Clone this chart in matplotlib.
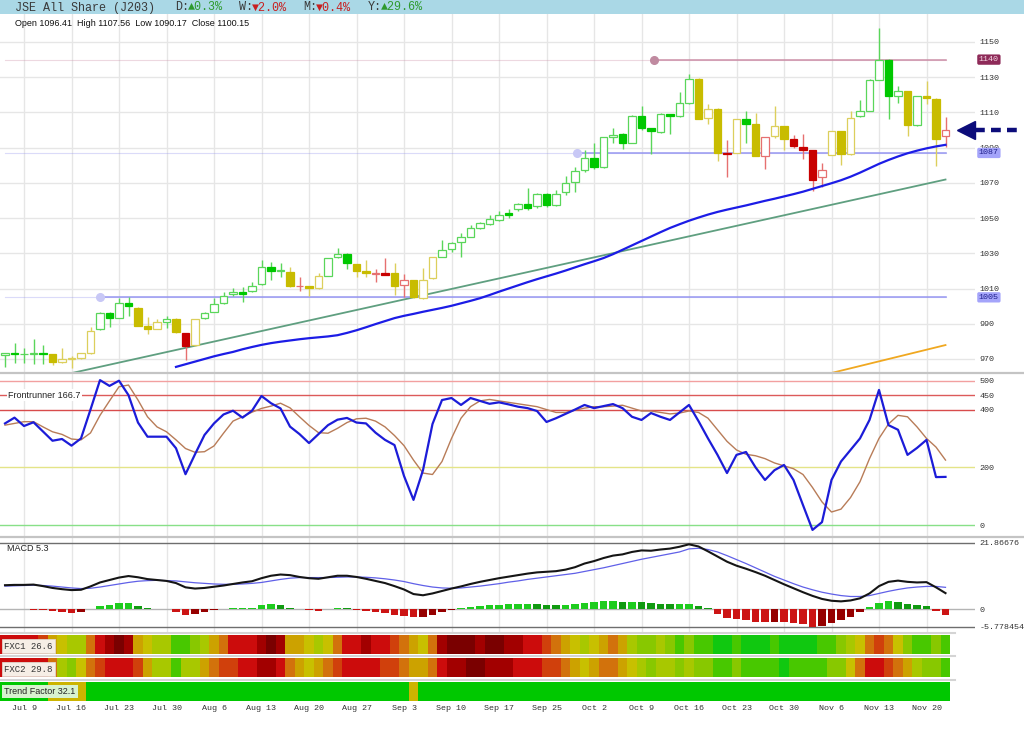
import numpy as np
import matplotlib
matplotlib.use('Agg')
import matplotlib.pyplot as plt
from matplotlib.colors import ListedColormap
from matplotlib.lines import Line2D
from matplotlib.patches import Rectangle
import matplotlib.transforms as mtrans

plt.rcParams['font.family'] = ['Liberation Mono', 'DejaVu Sans Mono']
SANS = ['Liberation Sans', 'DejaVu Sans']

W, H = 1024, 735

# ---------------- data ----------------
opens = [972.2, 973.5, 972.6, 972.6, 973.5, 972.6, 968.0, 970.2, 970.7, 973.6,
         987.0, 996.3, 993.4, 1001.6, 999.1, 988.9, 987.2, 991.2, 992.5, 985.0,
         977.9, 993.1, 996.7, 1001.6, 1006.7, 1008.0, 1008.4, 1012.6, 1022.4, 1020.0,
         1019.6, 1011.2, 1011.4, 1010.5, 1017.3, 1027.7, 1029.6, 1023.9, 1019.9, 1018.2,
         1018.7, 1018.7, 1012.0, 1014.8, 1004.4, 1015.8, 1028.1, 1032.5, 1036.3, 1039.5,
         1044.5, 1046.5, 1049.0, 1053.0, 1055.0, 1058.2, 1057.0, 1063.7, 1057.5, 1064.7,
         1070.6, 1077.4, 1084.1, 1078.8, 1096.0, 1098.0, 1092.9, 1108.1, 1100.9, 1098.7,
         1109.1, 1107.7, 1115.4, 1129.2, 1106.6, 1112.0, 1087.2, 1087.0, 1106.0, 1103.2,
         1085.2, 1096.8, 1102.2, 1095.0, 1090.3, 1088.6, 1073.3, 1086.0, 1099.3, 1086.2,
         1107.7, 1111.0, 1128.6, 1140.0, 1119.3, 1122.2, 1102.6, 1119.3, 1117.9, 1096.41]
highs = [973.5, 978.9, 976.0, 981.2, 977.9, 973.0, 976.0, 971.5, 973.5, 988.4,
         996.5, 996.5, 1004.4, 1005.0, 999.5, 994.0, 992.5, 994.4, 993.5, 985.0,
         992.5, 996.5, 1004.4, 1008.2, 1010.1, 1010.7, 1013.5, 1026.2, 1025.2, 1024.3,
         1022.0, 1016.7, 1011.6, 1018.7, 1027.5, 1032.8, 1030.0, 1024.2, 1026.2, 1020.9,
         1027.2, 1024.3, 1018.3, 1015.0, 1021.5, 1028.0, 1037.6, 1036.6, 1041.4, 1046.1,
         1048.0, 1052.0, 1054.0, 1055.0, 1058.5, 1067.0, 1064.0, 1064.0, 1066.1, 1073.9,
         1079.2, 1088.9, 1092.9, 1095.8, 1101.3, 1098.2, 1108.3, 1113.6, 1101.0, 1109.7,
         1109.3, 1121.8, 1131.6, 1129.5, 1115.0, 1112.6, 1094.4, 1106.4, 1111.0, 1109.7,
         1096.2, 1113.4, 1102.4, 1097.4, 1097.8, 1088.7, 1081.3, 1099.5, 1099.5, 1111.0,
         1116.9, 1128.8, 1158.0, 1140.2, 1125.1, 1122.4, 1119.5, 1128.1, 1118.1, 1107.56]
lows = [965.5, 967.9, 967.9, 967.0, 967.0, 966.4, 967.5, 965.0, 970.0, 973.0,
        986.5, 988.4, 993.0, 994.4, 988.5, 984.2, 987.0, 987.6, 984.5, 969.4,
        977.5, 992.5, 996.5, 1001.0, 1005.5, 1002.2, 1008.0, 1012.0, 1014.9, 1016.7,
        1011.0, 1008.8, 1005.8, 1010.0, 1017.0, 1027.3, 1020.9, 1016.7, 1016.7, 1013.9,
        1017.5, 1006.3, 1005.0, 1004.4, 1004.0, 1015.5, 1027.8, 1031.0, 1027.7, 1039.0,
        1044.0, 1046.0, 1048.5, 1050.0, 1054.0, 1054.5, 1056.0, 1056.5, 1057.0, 1063.1,
        1065.1, 1075.9, 1077.8, 1078.4, 1092.9, 1089.5, 1092.7, 1099.9, 1086.2, 1098.3,
        1097.9, 1107.5, 1115.0, 1106.0, 1103.2, 1082.7, 1073.5, 1086.8, 1092.9, 1085.0,
        1077.8, 1095.4, 1088.9, 1089.9, 1083.7, 1065.5, 1067.4, 1085.8, 1080.3, 1086.0,
        1107.5, 1110.8, 1128.4, 1106.2, 1115.6, 1096.8, 1102.4, 1115.0, 1079.8, 1090.17]
closes = [973.2, 972.6, 972.9, 973.5, 972.6, 968.3, 970.2, 970.5, 973.2, 986.1,
          996.3, 993.4, 1001.6, 1000.1, 988.9, 987.2, 991.2, 992.5, 985.2, 977.4,
          992.5, 996.3, 1001.2, 1005.9, 1008.0, 1006.7, 1011.6, 1022.4, 1020.1, 1020.3,
          1011.4, 1011.6, 1010.5, 1017.1, 1027.2, 1029.6, 1024.7, 1020.1, 1018.7, 1018.5,
          1017.7, 1011.4, 1014.8, 1005.0, 1014.8, 1027.7, 1031.9, 1035.7, 1039.1, 1044.6,
          1047.0, 1049.5, 1052.0, 1051.5, 1058.2, 1055.5, 1063.7, 1057.5, 1063.7, 1070.0,
          1076.8, 1084.1, 1078.8, 1095.8, 1097.4, 1092.9, 1108.1, 1100.9, 1099.3, 1109.1,
          1107.7, 1115.4, 1129.2, 1106.2, 1112.0, 1087.2, 1086.2, 1106.2, 1103.2, 1085.2,
          1096.0, 1102.2, 1095.0, 1091.1, 1088.9, 1071.4, 1077.2, 1099.3, 1086.2, 1106.8,
          1110.7, 1128.6, 1140.0, 1119.3, 1122.2, 1102.6, 1119.3, 1118.3, 1095.0, 1100.15]
# candle colour class: g = green, y = yellow, r = red
candle_kind = ("gggggyyyyy" "ggggyyygyr" "yggggggggg" "yryygggyyr"
               "ryryyygggg" "gggggggggg" "gggggggggg" "gggyyyrygy"
               "ryyrrrryyy" "gggggygyyr")

ma_blue = [np.nan] * 18 + [
    965.5, 967.0, 968.5, 970.0, 971.5, 972.8, 974.0, 975.5, 976.8, 978.0, 979.0, 979.8,
    980.5, 981.2, 981.8, 982.3, 982.8, 983.5, 984.8, 986.3, 988.0, 989.8,
    991.5, 993.2, 994.5, 995.6, 996.8, 997.9, 999.0, 1000.2, 1001.6, 1003.0,
    1004.5, 1006.3, 1008.2, 1010.0, 1011.8, 1013.6, 1015.3, 1016.9, 1018.5, 1020.2,
    1022.0, 1023.8, 1025.5, 1027.3, 1029.5, 1032.0, 1034.5, 1037.0, 1039.5, 1042.0,
    1044.4, 1046.5, 1048.5, 1050.3, 1052.0, 1053.5, 1054.8, 1056.0, 1057.2, 1058.5,
    1059.8, 1061.0, 1062.3, 1063.6, 1065.0, 1066.6, 1068.2, 1069.8, 1071.5, 1073.5,
    1075.8, 1078.3, 1080.8, 1083.0, 1085.0, 1086.8, 1088.3, 1089.6, 1090.7, 1091.6]
trend_x = [0, 99]
trend_y = [953.6, 1071.9]
slow_x = [85, 99]
slow_y = [959.4, 977.9]

level_vals = [1140, 1087, 1005]
level_from = [68.3, 60.2, 10.0]
level_text = ['1140', '1087', '1005']

price_ticks = [970, 990, 1010, 1030, 1050, 1070, 1090, 1110, 1130, 1150]

fr_line = [352, 372, 343, 356, 324, 292, 298, 275, 300, 400,
           502, 482, 500, 450, 355, 306, 306, 306, 266, 176,
           245, 312, 352, 383, 396, 372, 396, 447, 422, 404,
           341, 315, 284, 315, 346, 365, 371, 355, 352, 320,
           295, 277, 170, 87, 190, 350, 433, 440, 416, 440,
           430, 420, 425, 418, 410, 405, 395, 357, 370, 385,
           400, 416, 405, 412, 419, 405, 375, 364, 388, 375,
           364, 390, 416, 360, 300, 243, 180, 243, 253, 200,
           156, 190, 208, 156, 69, -17, 10, 156, 220, 260,
           300, 364, 468, 346, 330, 243, 267, 295, 166, 166.7]
fr_signal = [346, 352, 358, 358, 340, 323, 314, 298, 295, 319,
             380, 430, 479, 485, 433, 375, 340, 323, 295, 265,
             252, 254, 274, 318, 360, 375, 391, 404, 412, 422,
             406, 375, 345, 320, 318, 335, 355, 368, 370, 360,
             340, 310, 275, 225, 180, 175, 220, 300, 370, 410,
             430, 435, 430, 425, 420, 415, 410, 400, 390, 390,
             398, 405, 410, 410, 412, 415, 405, 395, 395, 390,
             385, 388, 395, 390, 370, 330, 290, 260, 245, 240,
             230, 215, 205, 195, 175, 130, 80, 45, 55, 95,
             150, 230, 300, 350, 380, 375, 340, 300, 270, 225]
fr_levels = [500, 450, 400, 200, 0]
fr_colors = ['#f2a0a0', '#dc5a5a', '#d84c4c', '#e4e488', '#88e088']

macd_line = [7.9, 8.0, 8.0, 8.1, 7.6, 7.0, 6.6, 6.3, 6.4, 7.5,
             8.8, 9.6, 10.4, 10.9, 10.5, 9.9, 9.6, 9.3, 8.6, 7.2,
             6.8, 7.0, 7.4, 7.8, 8.3, 8.8, 9.2, 10.2, 11.0, 11.4,
             11.2, 10.6, 10.2, 10.0, 10.5, 11.0, 11.0, 10.6, 10.0, 9.3,
             8.6, 7.6, 6.5, 5.0, 4.6, 5.2, 6.0, 6.8, 7.5, 8.3,
             9.0, 9.6, 10.2, 10.7, 11.2, 11.7, 12.1, 12.3, 12.5, 13.0,
             13.8, 15.0, 15.8, 16.8, 17.6, 18.0, 18.8, 19.3, 19.2, 19.6,
             19.9, 20.5, 21.3, 20.6, 19.0, 17.3, 15.6, 14.3, 13.3, 12.2,
             11.0, 9.6, 8.2, 6.9, 5.6, 4.4, 3.4, 2.8, 2.6, 2.9,
             3.6, 5.2, 7.6, 9.0, 9.4, 9.0, 8.8, 8.9, 7.2, 5.3]
macd_signal = [7.6, 7.7, 7.8, 7.9, 7.8, 7.6, 7.3, 7.0, 6.8, 6.9,
               7.3, 7.8, 8.3, 8.8, 9.2, 9.4, 9.5, 9.4, 9.3, 9.0,
               8.7, 8.5, 8.3, 8.2, 8.2, 8.3, 8.5, 8.8, 9.3, 9.8,
               10.2, 10.4, 10.4, 10.4, 10.4, 10.5, 10.6, 10.6, 10.5, 10.3,
               10.0, 9.6, 9.1, 8.4, 7.8, 7.3, 7.0, 6.9, 7.0, 7.3,
               7.6, 8.0, 8.4, 8.9, 9.3, 9.8, 10.2, 10.6, 11.0, 11.4,
               11.8, 12.4, 13.0, 13.6, 14.3, 15.0, 15.7, 16.4, 17.0, 17.6,
               18.2, 18.8, 19.8, 20.0, 19.6, 18.8, 17.6, 16.3, 15.0, 13.6,
               12.2, 10.8, 9.6, 8.4, 7.3, 6.4, 5.6, 5.0, 4.5, 4.2,
               4.2, 4.5, 5.2, 5.9, 6.5, 7.0, 7.3, 7.5, 7.5, 7.2]
macd_hist = [0.2, 0.1, 0.0, -0.1, -0.3, -0.7, -0.9, -1.1, -0.9, 0.2,
             1.0, 1.4, 2.0, 2.0, 1.2, 0.3, 0.1, 0.0, -0.8, -2.0,
             -1.5, -1.0, -0.3, 0.1, 0.3, 0.3, 0.4, 1.3, 1.6, 1.3,
             0.5, 0.1, -0.3, -0.4, 0.1, 0.4, 0.3, -0.2, -0.6, -1.0,
             -1.3, -1.8, -2.2, -2.6, -2.5, -1.8, -1.0, -0.2, 0.3, 0.8,
             1.0, 1.3, 1.5, 1.6, 1.6, 1.8, 1.7, 1.5, 1.4, 1.5,
             1.8, 2.2, 2.3, 2.6, 2.6, 2.4, 2.5, 2.4, 2.0, 1.8,
             1.6, 1.7, 1.9, 1.2, 0.3, -1.5, -2.8, -3.2, -3.4, -4.0,
             -4.2, -4.0, -4.3, -4.6, -4.9, -5.7, -5.6, -4.6, -3.6, -2.4,
             -1.0, 0.6, 2.0, 2.7, 2.5, 1.8, 1.3, 1.1, -0.6, -1.9]
macd_max, macd_min = 21.86676, -5.778454
macd_tick_lbl = ['-5.778454', '0', '21.86676']

# heat strips: 0 = darkest red ... 10 = bright green
fxc1 = [2, 2, 2, 2, 3, 5, 6, 7, 7, 4, 2, 1, 0, 1, 5, 6, 7, 7, 9, 9,
        8, 7, 5, 4, 2, 2, 2, 1, 0, 1, 5,
        5, 6, 7, 6, 4, 2, 2, 1, 2, 2, 3, 4, 5, 6, 4,
        1, 0, 0, 0, 1, 0, 0, 1, 1, 2, 2, 3,
        4, 5, 6, 7, 6, 5, 4, 5, 7, 8, 8, 7, 8, 9, 8,
        9, 9, 10, 10, 9, 10, 10, 10, 9, 10, 10, 10, 10, 9, 9, 8,
        7, 6, 4, 3, 4, 6, 8, 9, 9, 8, 9]
fxc2 = [2, 2, 2, 2, 2, 4, 7, 8, 6, 4, 3, 2, 2, 2, 3, 5, 7, 7, 9, 7,
        7, 5, 4, 3, 3, 2, 2, 1, 1, 2, 4,
        5, 6, 5, 4, 3, 2, 2, 2, 2, 3, 3, 4, 5, 5, 4,
        2, 1, 1, 0, 0, 1, 1, 1, 2, 2, 2, 3,
        3, 4, 5, 6, 5, 4, 4, 5, 6, 7, 8, 7, 7, 8, 7,
        8, 8, 9, 9, 8, 9, 9, 9, 9, 10, 9, 9, 9, 9, 8, 8,
        6, 4, 2, 2, 3, 4, 5, 7, 8, 8, 9]
trend_factor = ['G'] * 5 + ['Y'] * 4 + ['G'] * 34 + ['Y'] + ['G'] * 56

tick_idx = [2, 7, 12, 17, 22, 27, 32, 37, 42, 47, 52, 57, 62, 67, 72, 77, 82, 87, 92, 97]
tick_lbl = ['Jul 9', 'Jul 16', 'Jul 23', 'Jul 30', 'Aug 6', 'Aug 13', 'Aug 20', 'Aug 27',
            'Sep 3', 'Sep 10', 'Sep 17', 'Sep 25', 'Oct 2', 'Oct 9', 'Oct 16', 'Oct 23',
            'Oct 30', 'Nov 6', 'Nov 13', 'Nov 20']

# ---------------- helpers ----------------
def rect(x0, y0, x1, y1):
    return [x0 / W, 1 - y1 / H, (x1 - x0) / W, (y1 - y0) / H]

n = len(closes)
idx = np.arange(n)
XL = (-5 / 9.5, 970 / 9.5)   # candle i sits at 5 + 9.5*i pixels
GRID = '#e6e6e6'

def base(ax):
    ax.set_xlim(*XL)
    ax.set_facecolor('none')
    for s in ax.spines.values():
        s.set_visible(False)
    ax.set_xticks(tick_idx)
    ax.tick_params(axis='x', length=0, labelbottom=False)
    ax.grid(axis='x', color=GRID, lw=1)
    ax.yaxis.tick_right()
    ax.tick_params(axis='y', length=0, pad=3, labelsize=6, labelcolor='#333333')
    ax.set_axisbelow(True)

fig = plt.figure(figsize=(W / 100, H / 100), dpi=100)
fig.patch.set_facecolor('white')

# title bar
fig.patches.append(Rectangle((0, 1 - 14 / H), 1, 14 / H, transform=fig.transFigure,
                             facecolor='#aad8e6', edgecolor='none'))
ty = 1 - 7.5 / H
fig.text(15 / W, ty, 'JSE All Share (J203)', size=8.5, color='#3a3a3a', va='center')
for x0, head, val, col in [(175, 'D:', '▲0.3%', '#2e9a2e'), (239, 'W:', '▼2.0%', '#c82020'),
                           (303, 'M:', '▼0.4%', '#c82020'), (368, 'Y:', '▲29.6%', '#2e9a2e')]:
    fig.text(x0 / W, ty, head, size=8.5, color='#3a3a3a', va='center')
    fig.text((x0 + 13) / W, ty, val, size=8.5, color=col, va='center')

# ---------------- price panel ----------------
ax = fig.add_axes(rect(0, 14, 975, 372))
base(ax)
ax.set_ylim(962.6, 1165.9)
ax.set_yticks(price_ticks)
ax.grid(axis='y', color=GRID, lw=1)

fill_col = {'g': '#00c800', 'y': '#c8bc00', 'r': '#c80000'}
edge_col = {'g': '#5ad65a', 'y': '#dccf5c', 'r': '#e67070'}
faces, edges, wicks, bottoms, heights = [], [], [], [], []
for o, c, k in zip(opens, closes, candle_kind):
    up = c >= o
    faces.append('white' if up else fill_col[k])
    edges.append(edge_col[k] if up else fill_col[k])
    wicks.append(edge_col[k])
    bottoms.append(min(o, c))
    heights.append(max(abs(c - o), 0.45))
ax.vlines(idx, lows, highs, colors=wicks, lw=1.0, zorder=3)
ax.bar(idx, heights, bottom=bottoms, width=0.8, color=faces, edgecolor=edges,
       lw=0.9, zorder=4)

ax.plot(trend_x, trend_y, color='#5f9f80', lw=1.3, zorder=2)
ax.plot(slow_x, slow_y, color='#f0a820', lw=1.3, zorder=2)
ax.plot(idx, ma_blue, color='#1c1ce6', lw=1.6, zorder=5)

level_line = ['#cc90a8', '#9898f0', '#9898f0']
level_dot = ['#c08aa0', '#c8c8f6', '#c8c8f6']
level_box = ['#8e2a58', '#a4a4fa', '#a4a4fa']
level_txt = ['#f4d8e4', '#20208c', '#20208c']
yx = mtrans.blended_transform_factory(ax.transAxes, ax.transData)
for v, x0, t, lc, dc, bc, tc in zip(level_vals, level_from, level_text,
                                    level_line, level_dot, level_box, level_txt):
    ax.plot([0, n - 1], [v, v], color=lc, lw=0.8, alpha=0.35, zorder=2)
    ax.plot([x0, n - 1], [v, v], color=lc, lw=1.1, zorder=2)
    ax.plot([x0], [v], 'o', ms=5.5, color=dc, zorder=2)
    ax.text(1.004, v, t, transform=yx, size=6, color=tc, va='center', ha='left',
            bbox=dict(boxstyle='round,pad=0.2', fc=bc, ec='none'), zorder=10, clip_on=False)

# arrow pointing at last close
navy = '#0c0c7a'
ax.plot([n + 1.15], [closes[-1]], marker='<', ms=13, color=navy, clip_on=False, zorder=10)
ax.plot([n + 2.1, n + 6.5], [closes[-1]] * 2, color=navy, lw=3.2, ls=(0, (2.2, 1.4)),
        clip_on=False, zorder=10)

fig.text(15 / W, 1 - 23 / H, 'Open %.2f  High %.2f  Low %.2f  Close %.2f'
         % (opens[-1], highs[-1], lows[-1], closes[-1]),
         family=SANS, size=6.5, color='#111111', va='center')

# separators
for yy in (372.5, 536.5):
    fig.add_artist(Line2D([0, 1], [1 - yy / H] * 2, transform=fig.transFigure,
                          color='#c4c4c4', lw=1.6))

# ---------------- frontrunner panel ----------------
ax2 = fig.add_axes(rect(0, 373, 975, 536))
base(ax2)
ax2.set_ylim(-38.1, 526.7)
ax2.set_yticks(fr_levels)
for v, c in zip(fr_levels, fr_colors):
    ax2.axhline(v, color=c, lw=1.0, zorder=1)
ax2.plot(idx, fr_signal, color='#b87c58', lw=1.0, zorder=3)
ax2.plot(idx, fr_line, color='#1c1cd8', lw=1.6, zorder=4)
ax2.text(8 / 975, 450, 'Frontrunner %.1f' % fr_line[-1],
         transform=mtrans.blended_transform_factory(ax2.transAxes, ax2.transData),
         family=SANS, size=6.5, color='#222222', va='center',
         bbox=dict(fc='white', ec='none', pad=1.0), zorder=6)

# ---------------- MACD panel ----------------
ax3 = fig.add_axes(rect(0, 537, 975, 632))
base(ax3)
ax3.set_ylim(-7.44, 23.7)
ax3.set_yticks([macd_min, 0, macd_max])
ax3.set_yticklabels(macd_tick_lbl)
ax3.axhline(macd_max, color='#6e6e6e', lw=1.0)
ax3.axhline(macd_min, color='#6e6e6e', lw=1.0)
ax3.axhline(0, color='#b4b4b4', lw=1.0)
hcols = []
prev = 0.0
for h in macd_hist:
    if h >= 0:
        hcols.append('#1ecc1e' if h >= prev else '#119a11')
    else:
        hcols.append('#cc1414' if h <= prev else '#960000')
    prev = h
ax3.bar(idx, macd_hist, width=0.78, color=hcols, zorder=2)
ax3.plot(idx, macd_signal, color='#6060e8', lw=0.9, zorder=3)
ax3.plot(idx, macd_line, color='#151515', lw=1.5, zorder=4)
ax3.text(7 / 975, 0.88, 'MACD %.1f' % macd_line[-1], transform=ax3.transAxes,
         family=SANS, size=6.5, color='#222222', va='center')

# ---------------- heat strips ----------------
heat_cmap = ListedColormap(['#7a0000', '#a20000', '#cc0c0c', '#d0400c', '#d2720c',
                            '#cca200', '#c8c000', '#a8c800', '#88c800', '#48c800', '#10c810'])
strips = [(635, 654, fxc1, 'FXC1 26.6'), (658, 677, fxc2, 'FXC2 29.8')]
for y0, y1, vals, lbl in strips:
    fig.add_artist(Line2D([0, 955 / W], [1 - (y0 - 2) / H] * 2, transform=fig.transFigure,
                          color='#d4d4d4', lw=1.5))
    a = fig.add_axes(rect(0, y0, 975, y1))
    a.set_xlim(*XL)
    a.set_ylim(0, 1)
    a.axis('off')
    a.pcolormesh(np.arange(n + 1) - 0.5, [0, 1], np.array([vals]), cmap=heat_cmap,
                 vmin=-0.5, vmax=10.5, shading='flat')
    a.text(4 / 975, 0.42, lbl, transform=a.transAxes, size=6.5, color='#333333', va='center',
           bbox=dict(boxstyle='square,pad=0.25', fc='#f6eee6', ec='#e0d6cc', lw=0.6))

fig.add_artist(Line2D([0, 955 / W], [1 - 680 / H] * 2, transform=fig.transFigure,
                      color='#d4d4d4', lw=1.5))
ax4 = fig.add_axes(rect(0, 682, 975, 701))
ax4.set_xlim(*XL)
ax4.set_ylim(0, 1)
for s in ax4.spines.values():
    s.set_visible(False)
ax4.set_yticks([])
tf_map = {'G': '#00c800', 'Y': '#ccb400'}
ax4.bar(idx, 1, width=1.0, color=[tf_map[t] for t in trend_factor], lw=0, antialiased=False)
ax4.text(4 / 975, 0.5, 'Trend Factor 32.1', transform=ax4.transAxes, family=SANS, size=6.5,
         color='#222222', va='center',
         bbox=dict(boxstyle='square,pad=0.25', fc='#d8f2cf', ec='none'))
ax4.set_xticks(tick_idx)
ax4.set_xticklabels(tick_lbl)
ax4.tick_params(axis='x', length=0, pad=3, labelsize=6, labelcolor='#333333')

fig.savefig('out.png', dpi=100)
